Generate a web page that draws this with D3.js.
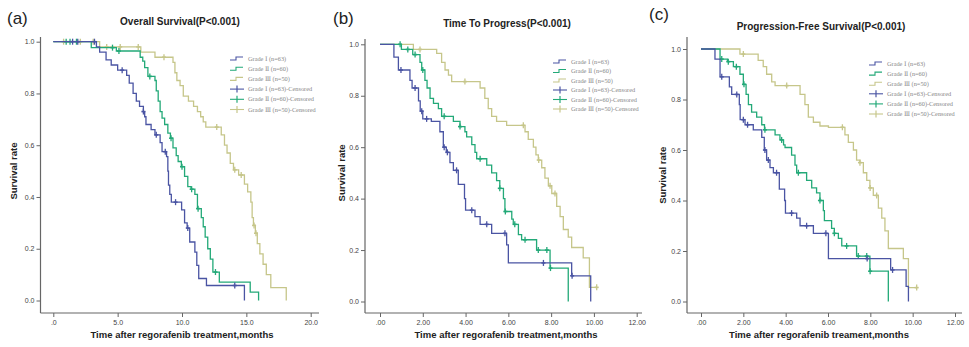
<!DOCTYPE html>
<html>
<head>
<meta charset="utf-8">
<script src="https://cdn.jsdelivr.net/npm/d3@7"></script>
<style>
  html, body { margin: 0; padding: 0; background: #fff; }
  svg { display: block; }
</style>
</head>
<body>
<div id="chart"></div>
<script>
// ---- data: [time, survival after the drop] ----
const grades = ['Grade Ⅰ (n=63)', 'Grade Ⅱ (n=60)', 'Grade Ⅲ (n=50)'];
const gradeColors = ['#4a54a3', '#23a978', '#c6c68a'];

// (a) overall survival
const osG1 = [[0,1],[3.35,0.98],[3.6,0.96],[4.1,0.93],[4.5,0.91],[5.0,0.89],[5.7,0.87],[5.9,0.84],[6.2,0.80],[6.45,0.77],[6.7,0.75],[7.0,0.73],[7.1,0.71],[7.2,0.68],[7.6,0.66],[7.9,0.64],[8.3,0.61],[8.45,0.575],[8.8,0.556],[8.9,0.50],[8.95,0.446],[9.05,0.41],[9.17,0.38],[9.97,0.35],[10.2,0.30],[10.4,0.28],[10.6,0.226],[11.0,0.187],[11.15,0.136],[11.3,0.085],[11.9,0.058],[14.85,0]];
const osG1Cens = [1.5,1.9,3.2,5.35,7.0,8.0,8.7,9.5,10.45,14.1];
const osG2 = [[0,1],[2.95,0.977],[4.9,0.964],[6.75,0.94],[6.95,0.925],[7.1,0.90],[7.35,0.866],[7.9,0.85],[8.0,0.81],[8.15,0.77],[8.3,0.73],[8.45,0.705],[8.65,0.68],[8.9,0.647],[9.1,0.627],[9.3,0.59],[9.55,0.56],[9.7,0.537],[9.95,0.517],[10.2,0.48],[10.45,0.44],[10.7,0.43],[11.0,0.41],[11.2,0.355],[11.5,0.32],[11.65,0.285],[11.8,0.245],[12.0,0.20],[12.2,0.16],[12.4,0.11],[12.9,0.071],[15.3,0.032],[15.95,0]];
const osG2Cens = [1.0,1.3,1.8,4.6,5.1,7.5,9.15,10.0,10.75,11.25,12.6];
const osG3 = [[0,1],[3.6,0.98],[6.8,0.96],[7.9,0.94],[9.3,0.92],[9.45,0.88],[9.6,0.85],[9.85,0.83],[10.1,0.79],[10.5,0.77],[10.9,0.75],[11.2,0.73],[11.45,0.71],[11.65,0.69],[11.85,0.67],[13.05,0.64],[13.3,0.60],[13.5,0.57],[13.75,0.53],[14.0,0.505],[14.4,0.485],[14.85,0.45],[15.1,0.42],[15.35,0.38],[15.45,0.32],[15.55,0.29],[15.7,0.26],[15.85,0.22],[16.05,0.18],[16.3,0.14],[16.55,0.10],[16.9,0.05],[18.1,0]];
const osG3Cens = [0.8,2.1,3.1,4.15,5.2,6.6,8.6,12.7,14.1,14.6,15.6,15.75];

// (b) time to progress
const ttpG1 = [[0,1],[0.65,0.95],[0.86,0.90],[1.4,0.86],[1.5,0.83],[1.8,0.78],[1.88,0.74],[2.0,0.71],[2.4,0.70],[2.8,0.66],[2.96,0.60],[3.1,0.58],[3.27,0.54],[3.43,0.51],[3.66,0.455],[3.95,0.40],[4.0,0.355],[4.44,0.33],[4.68,0.30],[5.22,0.265],[5.92,0.22],[6.0,0.15],[8.96,0.10],[9.85,0]];
const ttpG1Cens = [0.98,1.64,1.95,2.18,3.0,3.15,3.58,4.29,4.99,5.84,7.64,8.98];
const ttpG2 = [[0,1],[1.0,0.98],[1.53,0.96],[1.87,0.93],[1.95,0.90],[2.1,0.86],[2.2,0.83],[2.34,0.79],[2.5,0.77],[2.73,0.75],[2.88,0.72],[3.43,0.70],[3.74,0.68],[3.97,0.66],[4.05,0.64],[4.29,0.61],[4.44,0.58],[4.52,0.555],[4.99,0.53],[5.22,0.50],[5.45,0.47],[5.6,0.44],[5.77,0.40],[5.84,0.35],[6.16,0.32],[6.23,0.30],[6.47,0.26],[6.62,0.24],[7.32,0.20],[7.95,0.13],[8.8,0]];
const ttpG2Cens = [0.94,1.3,1.64,2.0,3.0,3.74,4.68,5.6,5.86,6.3,6.78,7.4,7.8,7.97];
const ttpG3 = [[0,1],[1.56,0.98],[2.65,0.965],[2.88,0.93],[3.04,0.90],[3.2,0.88],[3.35,0.855],[4.68,0.83],[4.9,0.79],[5.06,0.75],[5.22,0.72],[5.45,0.70],[5.92,0.685],[6.78,0.66],[6.93,0.63],[7.17,0.60],[7.29,0.57],[7.4,0.55],[7.56,0.52],[7.71,0.48],[7.87,0.45],[8.03,0.42],[8.26,0.37],[8.42,0.33],[8.57,0.28],[8.8,0.25],[8.96,0.21],[9.5,0.17],[9.79,0.055]];
const ttpG3Cens = [1.87,3.97,6.7,7.42,7.95,8.18,10.13];

// (c) progression-free survival
const pfsG1 = [[0,1],[0.66,0.96],[0.9,0.89],[1.34,0.85],[1.45,0.82],[1.81,0.78],[1.85,0.72],[2.08,0.70],[2.47,0.68],[2.87,0.65],[2.99,0.60],[3.1,0.56],[3.26,0.53],[3.42,0.51],[3.7,0.445],[3.95,0.40],[3.99,0.35],[4.52,0.33],[4.68,0.30],[5.31,0.27],[6.02,0.17],[8.96,0.125],[9.69,0.06],[9.8,0]];
const pfsG1Cens = [0.98,1.69,2.0,2.2,3.02,3.18,3.57,4.28,4.99,5.9,7.85,9.05];
const pfsG2 = [[0,1],[0.9,0.96],[1.25,0.95],[1.53,0.93],[1.84,0.90],[2.0,0.86],[2.13,0.82],[2.24,0.78],[2.39,0.75],[2.63,0.73],[2.87,0.70],[3.0,0.68],[3.5,0.66],[3.73,0.64],[3.9,0.62],[3.97,0.61],[4.28,0.58],[4.44,0.54],[4.52,0.51],[4.99,0.48],[5.23,0.45],[5.46,0.43],[5.62,0.40],[5.78,0.36],[5.83,0.32],[6.17,0.29],[6.3,0.27],[6.49,0.25],[6.65,0.22],[7.35,0.18],[7.98,0.12],[8.85,0]];
const pfsG2Cens = [0.98,1.29,1.67,2.03,3.02,3.81,4.6,5.62,6.3,6.88,7.43,7.83,7.99];
const pfsG3 = [[0,1],[1.84,0.98],[2.7,0.955],[2.94,0.93],[3.1,0.90],[3.34,0.87],[3.5,0.855],[4.68,0.82],[4.91,0.78],[5.07,0.73],[5.31,0.71],[5.62,0.695],[6.02,0.69],[6.8,0.66],[6.96,0.63],[7.2,0.60],[7.35,0.56],[7.51,0.55],[7.67,0.51],[7.83,0.48],[7.98,0.45],[8.14,0.42],[8.38,0.37],[8.54,0.33],[8.69,0.28],[8.85,0.21],[9.56,0.17],[9.8,0.055]];
const pfsG3Cens = [2.0,4.05,6.68,7.51,7.99,8.3,10.19];

// ticks
const yTicks = [0, 0.2, 0.4, 0.6, 0.8, 1.0];
const yTickLabels = ['0.0', '0.2', '0.4', '0.6', '0.8', '1.0'];
const xTicksA = [0, 5, 10, 15, 20];
const xTickLabelsA = ['.0', '5.0', '10.0', '15.0', '20.0'];
const xTicksBC = [0, 2, 4, 6, 8, 10, 12];
const xTickLabelsBC = ['.00', '2.00', '4.00', '6.00', '8.00', '10.00', '12.00'];

// ---- layout ----
const panels = [
  { tag: '(a)', tagX: 7, tagY: 24, title: 'Overall Survival(P<0.001)', titleX: 180, titleY: 25,
    xlabel: 'Time after regorafenib treatment,months', xlabelX: 182,
    ticks: xTicksA, tickLabels: xTickLabelsA, xmax: 20,
    axL: 40.5, axR: 319, axT: 37, axB: 313, x0: 53.3, x1: 310.7, y1: 41.7, y0: 300.5, ylabX: 17,
    legX: 230, legY: 58.5, legDy: 10.2,
    series: [[osG1, osG1Cens], [osG2, osG2Cens], [osG3, osG3Cens]] },
  { tag: '(b)', tagX: 333, tagY: 24, title: 'Time To Progress(P<0.001)', titleX: 507, titleY: 27,
    xlabel: 'Time after regorafenib treatment,months', xlabelX: 506,
    ticks: xTicksBC, tickLabels: xTickLabelsBC, xmax: 12,
    axL: 365, axR: 642, axT: 39, axB: 313, x0: 380, x1: 636.7, y1: 44.3, y0: 301.5, ylabX: 345,
    legX: 553, legY: 61.5, legDy: 9.5,
    series: [[ttpG1, ttpG1Cens], [ttpG2, ttpG2Cens], [ttpG3, ttpG3Cens]] },
  { tag: '(c)', tagX: 649, tagY: 20, title: 'Progression-Free Survival(P<0.001)', titleX: 821, titleY: 30,
    xlabel: 'Time after regorafenib treament,months', xlabelX: 819,
    ticks: xTicksBC, tickLabels: xTickLabelsBC, xmax: 12,
    axL: 687, axR: 962, axT: 37, axB: 313, x0: 701, x1: 955, y1: 49, y0: 301.5, ylabX: 666,
    legX: 869, legY: 63.5, legDy: 10.1,
    series: [[pfsG1, pfsG1Cens], [pfsG2, pfsG2Cens], [pfsG3, pfsG3Cens]] }
];

const W = 969, H = 347;
const svg = d3.select('#chart').append('svg').attr('width', W).attr('height', H);
const sans = 'Liberation Sans, Arial, sans-serif';
const serif = 'Liberation Serif, DejaVu Serif, serif';
const axisColor = '#666';

function valueAt(curve, t) {
  let s = curve[0][1];
  for (const [ct, cs] of curve) { if (ct <= t) s = cs; else break; }
  return s;
}

panels.forEach(p => {
  const g = svg.append('g');
  const x = d3.scaleLinear().domain([0, p.xmax]).range([p.x0, p.x1]);
  const y = d3.scaleLinear().domain([0, 1]).range([p.y0, p.y1]);

  // panel tag and title
  g.append('text').attr('x', p.tagX).attr('y', p.tagY).text(p.tag)
    .style('font-family', sans).style('font-size', '17px').style('fill', '#222');
  g.append('text').attr('x', p.titleX).attr('y', p.titleY).attr('text-anchor', 'middle').text(p.title)
    .style('font-family', sans).style('font-size', '10px').style('font-weight', 'bold').style('fill', '#222');

  // axes
  const yAx = g.append('g').attr('transform', `translate(${p.axL},0)`)
    .call(d3.axisLeft(y).tickValues(yTicks).tickFormat((d, i) => yTickLabels[i]).tickSize(4).tickPadding(2));
  yAx.select('.domain').remove();
  const xAx = g.append('g').attr('transform', `translate(0,${p.axB})`)
    .call(d3.axisBottom(x).tickValues(p.ticks).tickFormat((d, i) => p.tickLabels[i]).tickSize(4).tickPadding(3));
  xAx.select('.domain').remove();
  g.selectAll('.tick line').attr('stroke', axisColor);
  g.selectAll('.tick text').style('font-family', sans).style('font-size', '7px').style('fill', '#444');
  g.append('line').attr('x1', p.axL).attr('x2', p.axL).attr('y1', p.axT).attr('y2', p.axB)
    .attr('stroke', axisColor).attr('stroke-width', 1.2);
  g.append('line').attr('x1', p.axL).attr('x2', p.axR).attr('y1', p.axB).attr('y2', p.axB)
    .attr('stroke', axisColor).attr('stroke-width', 1.2);

  // axis titles
  g.append('text').attr('transform', `translate(${p.ylabX},${(p.y0 + p.y1) / 2}) rotate(-90)`)
    .attr('text-anchor', 'middle').text('Survival rate')
    .style('font-family', sans).style('font-size', '9.5px').style('font-weight', 'bold').style('fill', '#222');
  g.append('text').attr('x', p.xlabelX).attr('y', 338).attr('text-anchor', 'middle').text(p.xlabel)
    .style('font-family', sans).style('font-size', '9.5px').style('font-weight', 'bold').style('fill', '#222');

  // survival curves, drawn so that the first grade lies on top
  const line = d3.line().x(d => x(d[0])).y(d => y(d[1])).curve(d3.curveStepAfter);
  p.series.slice().reverse().forEach(([curve, cens], ri) => {
    const gi = p.series.length - 1 - ri;
    const pts = curve.slice();
    const last = pts[pts.length - 1];
    const cMax = d3.max(cens);
    if (cMax > last[0]) pts.push([cMax, last[1]]);
    g.append('path').datum(pts).attr('d', line).attr('fill', 'none')
      .attr('stroke', gradeColors[gi]).attr('stroke-width', 1.3);
    g.selectAll(null).data(cens).join('line')
      .attr('x1', d => x(d)).attr('x2', d => x(d))
      .attr('y1', d => y(valueAt(curve, d)) - 3).attr('y2', d => y(valueAt(curve, d)) + 3)
      .attr('stroke', gradeColors[gi]).attr('stroke-width', 1.3);
    g.selectAll(null).data(cens).join('line')
      .attr('x1', d => x(d) - 2).attr('x2', d => x(d) + 2)
      .attr('y1', d => y(valueAt(curve, d))).attr('y2', d => y(valueAt(curve, d)))
      .attr('stroke', gradeColors[gi]).attr('stroke-width', 1.6);
  });

  // legend
  const leg = g.append('g').attr('transform', `translate(${p.legX},${p.legY})`);
  const rows = grades.map((n, i) => ({ name: n, color: gradeColors[i], cens: false }))
    .concat(grades.map((n, i) => ({ name: n + '-Censored', color: gradeColors[i], cens: true })));
  rows.forEach((r, i) => {
    const ry = i * p.legDy;
    if (!r.cens) {
      leg.append('path').attr('d', `M0,${ry + 1.5}H6V${ry - 1.5}H13`)
        .attr('fill', 'none').attr('stroke', r.color).attr('stroke-width', 1.1);
    } else {
      leg.append('line').attr('x1', 0).attr('x2', 14).attr('y1', ry).attr('y2', ry)
        .attr('stroke', r.color).attr('stroke-width', 1.1);
      leg.append('line').attr('x1', 7).attr('x2', 7).attr('y1', ry - 3.5).attr('y2', ry + 3.5)
        .attr('stroke', r.color).attr('stroke-width', 1.2);
    }
    leg.append('text').attr('x', 18).attr('y', ry + 2).text(r.name)
      .style('font-family', serif).style('font-size', '6.3px').style('fill', '#888');
  });
});
</script>
</body>
</html>
